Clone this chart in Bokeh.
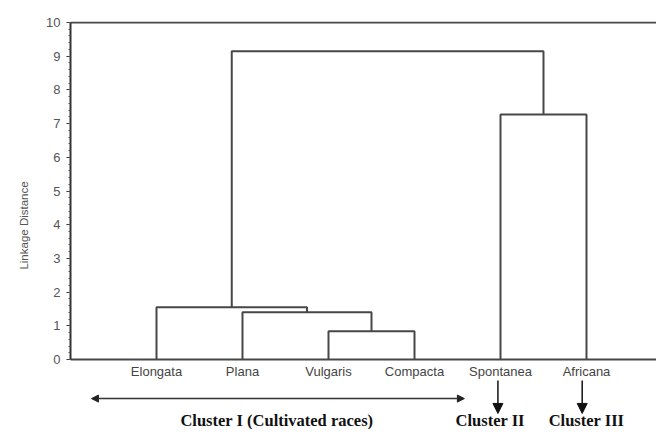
from bokeh.plotting import figure
from bokeh.models import FixedTicker, Arrow, NormalHead, Range1d
from bokeh.core.properties import value
from bokeh.embed import file_html
from bokeh.resources import INLINE

# ---- data ----
leaves = ["Elongata", "Plana", "Vulgaris", "Compacta", "Spontanea", "Africana"]
# merges: (left node, right node, linkage distance); nodes 0..5 are leaves, 6.. are clusters
merge_left = [2, 1, 0, 4, 8]
merge_right = [3, 6, 7, 5, 9]
merge_height = [0.84, 1.40, 1.55, 7.27, 9.15]
y_ticks = [0, 1, 2, 3, 4, 5, 6, 7, 8, 9, 10]
cluster_names = ["Cluster I (Cultivated races)", "Cluster II", "Cluster III"]

LINE = "#474747"

p = figure(width=656, height=429, output_backend="svg", toolbar_location=None,
           x_range=Range1d(0, 6.814), y_range=Range1d(-2.077, 10.03),
           min_border_left=70, min_border_right=0, min_border_top=21, min_border_bottom=0)
p.outline_line_color = None
p.grid.visible = False
p.xaxis.visible = False

ya = p.yaxis[0]
ya.bounds = (0, 10)
ya.ticker = FixedTicker(ticks=y_ticks, minor_ticks=[i / 5 for i in range(51)])
ya.axis_line_color = "#333333"
ya.axis_line_width = 2
ya.major_tick_line_color = "#333333"
ya.minor_tick_line_color = "#555555"
ya.major_tick_in = 0
ya.major_tick_out = 4
ya.minor_tick_in = 0
ya.minor_tick_out = 2
ya.major_label_text_font = "Liberation Sans"
ya.major_label_text_font_size = "13px"
ya.major_label_text_color = "#555555"
ya.major_label_standoff = 6
ya.axis_label = "Linkage Distance"
ya.axis_label_text_font = "Liberation Sans"
ya.axis_label_text_font_size = "11.5px"
ya.axis_label_text_font_style = "normal"
ya.axis_label_text_color = "#555555"
ya.axis_label_standoff = 13

# frame lines: baseline and top
p.segment(x0=[0, 0], y0=[0, 10], x1=[7, 7], y1=[0, 10], line_color=LINE, line_width=2)

# ---- dendrogram links ----
node_x = [float(i + 1) for i in range(len(leaves))]
node_y = [0.0] * len(leaves)
xs, ys = [], []
for a, b, h in zip(merge_left, merge_right, merge_height):
    xa, ya_, xb, yb = node_x[a], node_y[a], node_x[b], node_y[b]
    xs.append([xa, xa, xb, xb])
    ys.append([ya_, h, h, yb])
    node_x.append((xa + xb) / 2)
    node_y.append(h)
p.multi_line(xs=xs, ys=ys, line_color=LINE, line_width=2)

# leaf labels
p.text(x=node_x[:len(leaves)], y=[-0.36] * len(leaves), text=leaves,
       text_font=value("Liberation Sans"), text_font_size="13px", text_color="#444444",
       text_align="center", text_baseline="middle")

# cluster annotations
p.add_layout(Arrow(start=NormalHead(size=7, fill_color="#222222", line_color="#222222"),
                   end=NormalHead(size=7, fill_color="#222222", line_color="#222222"),
                   x_start=0.244, y_start=-1.16, x_end=4.58, y_end=-1.16,
                   line_color="#333333", line_width=1.5))
for lx in [node_x[4] - 0.03, node_x[5] - 0.05]:
    p.add_layout(Arrow(end=NormalHead(size=10, fill_color="#111111", line_color="#111111"),
                       x_start=lx, y_start=-0.62, x_end=lx, y_end=-1.6,
                       line_color="#111111", line_width=1.5))

p.text(x=[2.4, 4.88, 6.0], y=[-1.82] * 3, text=cluster_names,
       text_font=value("Liberation Serif"), text_font_size="16.5px", text_font_style="bold",
       text_color="#111111", text_align="center", text_baseline="middle")

open("out.html", "w").write(file_html(p, INLINE))
